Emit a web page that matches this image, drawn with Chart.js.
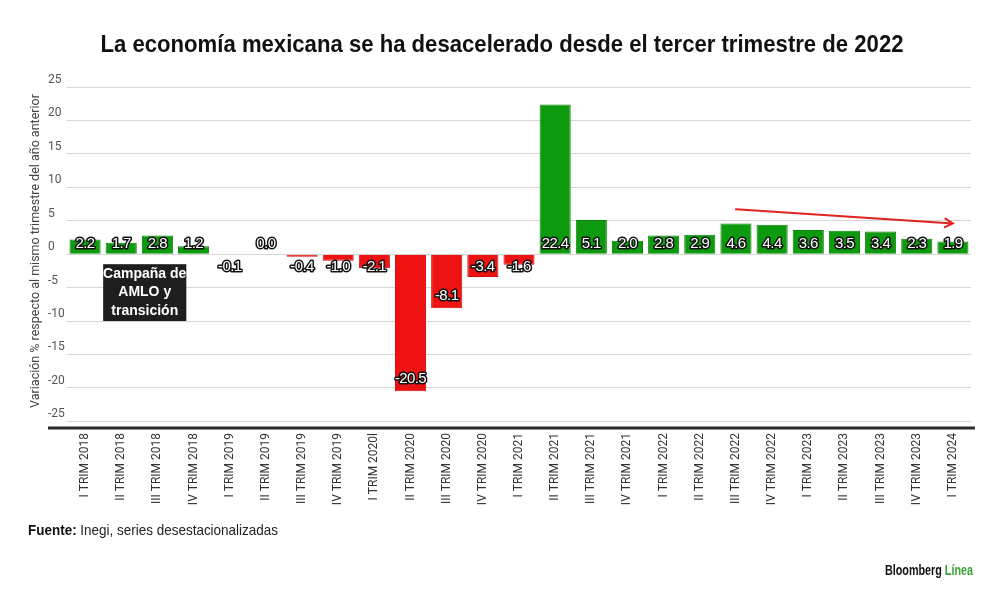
<!DOCTYPE html>
<html>
<head>
<meta charset="utf-8">
<script src="https://cdn.jsdelivr.net/npm/chart.js@4.4.1/dist/chart.umd.min.js"></script>
<style>
  html, body { margin: 0; padding: 0; background: #fff; }
  #wrap { width: 1000px; height: 598px; position: relative; }
</style>
</head>
<body>
<div id="wrap"><canvas id="pib-chart"></canvas></div>
<script>
// datos (Inegi, series desestacionalizadas)
const trimestres = ["I TRIM 2018","II TRIM 2018","III TRIM 2018","IV TRIM 2018",
  "I TRIM 2019","II TRIM 2019","III TRIM 2019","IV TRIM 2019",
  "I TRIM 2020l","II TRIM 2020","III TRIM 2020","IV TRIM 2020",
  "I TRIM 2021","II TRIM 2021","III TRIM 2021","IV TRIM 2021",
  "I TRIM 2022","II TRIM 2022","III TRIM 2022","IV TRIM 2022",
  "I TRIM 2023","II TRIM 2023","III TRIM 2023","IV TRIM 2023",
  "I TRIM 2024"];
const variacion = [2.2,1.7,2.8,1.2, -0.1,0.0,-0.4,-1.0, -2.1,-20.5,-8.1,-3.4,
  -1.6,22.4,5.1,2.0, 2.8,2.9,4.6,4.4, 3.6,3.5,3.4,2.3, 1.9];
const yTicks = [25,20,15,10,5,0,-5,-10,-15,-20,-25];
// flecha de tendencia: [indice, valor]
const tendencia = [[18, 6.7], [24, 4.6]];
// caja de nota: x de/hasta (indices), y de/hasta (valores)
const notaX = [0.5, 2.8];
const notaY = [-1.5, -10];
const notaTexto = ["Campaña de", "AMLO y", "transición"];

const titulo = "La economía mexicana se ha desacelerado desde el tercer trimestre de 2022";
const tituloEjeY = "Variación % respecto al mismo trimestre del año anterior";
const fuenteNegrita = "Fuente:";
const fuenteTexto = " Inegi, series desestacionalizadas";

const verde = '#0e9a0e', verdeBorde = '#0b820b';
const rojo = '#ee1313', rojoBorde = '#d10f0f';

// dibuja texto y lo ajusta a un ancho dado
function textoAjustado(ctx, parts, x, y, width, align) {
  let total = 0;
  parts.forEach(p => { ctx.font = p.font; total += ctx.measureText(p.text).width; });
  const k = width ? width / total : 1;
  ctx.save();
  let x0 = align === 'center' ? x - total * k / 2 : x;
  ctx.translate(x0, y);
  ctx.scale(k, 1);
  ctx.textBaseline = 'middle';
  ctx.textAlign = 'left';
  let cx = 0;
  parts.forEach(p => {
    ctx.font = p.font; ctx.fillStyle = p.color;
    ctx.fillText(p.text, cx, 0);
    cx += ctx.measureText(p.text).width;
  });
  ctx.restore();
}

const extras = {
  id: 'extras',
  afterDatasetsDraw(chart) {
    const ctx = chart.ctx, xs = chart.scales.x, ys = chart.scales.y;
    const area = chart.chartArea;
    const y0 = ys.getPixelForValue(0);

    // linea base oscura
    ctx.save();
    ctx.strokeStyle = '#2b2b2b'; ctx.lineWidth = 3;
    ctx.beginPath(); ctx.moveTo(48, area.bottom); ctx.lineTo(975, area.bottom); ctx.stroke();
    ctx.restore();

    // etiquetas de valor
    const meta = chart.getDatasetMeta(0);
    ctx.save();
    ctx.font = '15px "Liberation Sans", Arial, sans-serif';
    ctx.letterSpacing = '-0.6px';
    ctx.textAlign = 'center'; ctx.textBaseline = 'middle';
    ctx.lineJoin = 'round'; ctx.lineWidth = 3; ctx.strokeStyle = '#111';
    ctx.fillStyle = '#fff';
    meta.data.forEach((bar, i) => {
      const v = variacion[i];
      const yc = v >= 0 ? y0 - 10 : Math.max(y0 + 13, bar.y - 12);
      const t = v.toFixed(1);
      ctx.strokeText(t, bar.x, yc);
      ctx.fillText(t, bar.x, yc);
    });
    ctx.restore();

    // caja de nota
    const bx1 = xs.getPixelForValue(notaX[0]), bx2 = xs.getPixelForValue(notaX[1]);
    const by1 = ys.getPixelForValue(notaY[0]), by2 = ys.getPixelForValue(notaY[1]);
    ctx.save();
    ctx.fillStyle = '#1e1e1e';
    ctx.fillRect(bx1, by1, bx2 - bx1, by2 - by1);
    ctx.fillStyle = '#fff';
    ctx.font = 'bold 14px "Liberation Sans", Arial, sans-serif';
    ctx.textAlign = 'center'; ctx.textBaseline = 'middle';
    const lh = (by2 - by1) / notaTexto.length;
    notaTexto.forEach((t, i) => ctx.fillText(t, (bx1 + bx2) / 2, by1 + lh * (i + 0.5)));
    ctx.restore();

    // flecha roja
    const ax1 = xs.getPixelForValue(tendencia[0][0]), ay1 = ys.getPixelForValue(tendencia[0][1]);
    const ax2 = xs.getPixelForValue(tendencia[1][0]), ay2 = ys.getPixelForValue(tendencia[1][1]);
    const ang = Math.atan2(ay2 - ay1, ax2 - ax1);
    ctx.save();
    ctx.strokeStyle = '#e0231f'; ctx.lineWidth = 2; ctx.lineCap = 'round';
    ctx.beginPath(); ctx.moveTo(ax1, ay1); ctx.lineTo(ax2, ay2);
    ctx.moveTo(ax2 - 9 * Math.cos(ang - 0.5), ay2 - 9 * Math.sin(ang - 0.5));
    ctx.lineTo(ax2, ay2);
    ctx.lineTo(ax2 - 9 * Math.cos(ang + 0.5), ay2 - 9 * Math.sin(ang + 0.5));
    ctx.stroke();
    ctx.restore();
  },
  afterDraw(chart) {
    const ctx = chart.ctx;
    // titulo
    textoAjustado(ctx, [{ text: titulo, font: 'bold 24px "Liberation Sans", Arial, sans-serif', color: '#111' }],
      502, 45, 803, 'center');
    // titulo eje y
    ctx.save();
    ctx.translate(36, 251);
    ctx.rotate(-Math.PI / 2);
    ctx.font = '12.5px Roboto, "Liberation Sans", sans-serif';
    ctx.fillStyle = '#444'; ctx.textAlign = 'center'; ctx.textBaseline = 'middle';
    ctx.fillText(tituloEjeY, 0, 0);
    ctx.restore();
    // fuente
    textoAjustado(ctx, [
      { text: fuenteNegrita, font: 'bold 15px "Liberation Sans", Arial, sans-serif', color: '#111' },
      { text: fuenteTexto, font: '15px "Liberation Sans", Arial, sans-serif', color: '#222' }
    ], 28, 531, 250, 'left');
    // logo
    textoAjustado(ctx, [
      { text: 'Bloomberg ', font: 'bold 14px "Liberation Sans", Arial, sans-serif', color: '#111' },
      { text: 'Línea', font: 'bold 14px "Liberation Sans", Arial, sans-serif', color: '#3aa335' }
    ], 885, 571, 88, 'left');
  }
};

new Chart('pib-chart', {
  type: 'bar',
  data: {
    labels: trimestres,
    datasets: [{
      data: variacion,
      backgroundColor: variacion.map(v => v >= 0 ? verde : rojo),
      borderColor: variacion.map(v => v >= 0 ? verdeBorde : rojoBorde),
      borderWidth: 1,
      barPercentage: 0.86,
      categoryPercentage: 1
    }]
  },
  options: {
    responsive: true,
    maintainAspectRatio: false,
    animation: false,
    layout: { padding: { top: 87, left: 48, right: 29, bottom: 0 } },
    plugins: { legend: { display: false }, tooltip: { enabled: false }, title: { display: false } },
    scales: {
      x: {
        grid: { display: false, drawTicks: false },
        border: { display: false },
        ticks: {
          minRotation: 90, maxRotation: 90, autoSkip: false, padding: 5,
          color: '#333', font: { family: 'Roboto', size: 12 }
        },
        afterFit(scale) { scale.height = 170; }
      },
      y: {
        min: -26, max: 25,
        afterBuildTicks(axis) { axis.ticks = yTicks.map(v => ({ value: v })); },
        grid: { color: '#d6d6d6', lineWidth: 1, drawTicks: false },
        border: { display: false },
        ticks: {
          crossAlign: 'far', labelOffset: -7, padding: 0,
          color: '#555', font: { family: 'Roboto', size: 12 }
        },
        afterFit(scale) { scale.width = 19; }
      }
    }
  },
  plugins: [extras]
});
</script>
</body>
</html>
